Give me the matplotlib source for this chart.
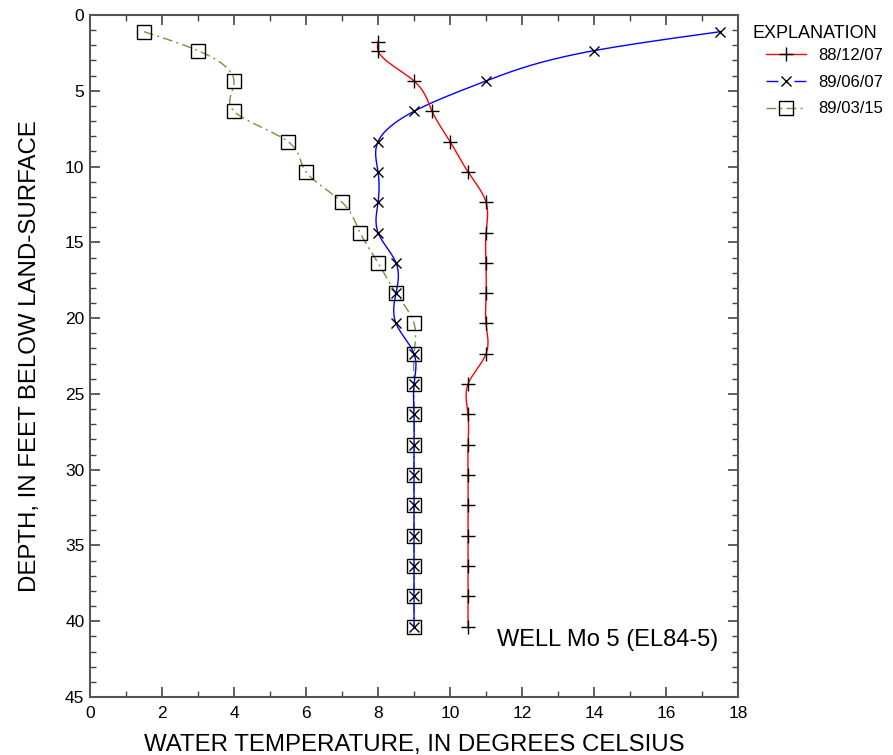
import numpy as np
import matplotlib
matplotlib.use("Agg")
import matplotlib.pyplot as plt
from matplotlib.lines import Line2D
from matplotlib.ticker import MultipleLocator

plt.rcParams['font.family'] = ['Liberation Sans', 'DejaVu Sans']

# 88/12/07
depth_dec = [1.75, 2.35, 4.35, 6.35, 8.35, 10.35, 12.35, 14.35, 16.35, 18.35, 20.35,
             22.35, 24.35, 26.35, 28.35, 30.35, 32.35, 34.35, 36.35, 38.35, 40.35]
temp_dec = [8.0, 8.0, 9.0, 9.5, 10.0, 10.5, 11.0, 11.0, 11.0, 11.0, 11.0,
            11.0, 10.5, 10.5, 10.5, 10.5, 10.5, 10.5, 10.5, 10.5, 10.5]

# 89/06/07
depth_jun = [1.1, 2.35, 4.35, 6.35, 8.35, 10.35, 12.35, 14.35, 16.35, 18.35, 20.35,
             22.35, 24.35, 26.35, 28.35, 30.35, 32.35, 34.35, 36.35, 38.35, 40.35]
temp_jun = [17.5, 14.0, 11.0, 9.0, 8.0, 8.0, 8.0, 8.0, 8.5, 8.5, 8.5,
            9.0, 9.0, 9.0, 9.0, 9.0, 9.0, 9.0, 9.0, 9.0, 9.0]

# 89/03/15
depth_mar = [1.1, 2.35, 4.35, 6.35, 8.35, 10.35, 12.35, 14.35, 16.35, 18.35, 20.35,
             22.35, 24.35, 26.35, 28.35, 30.35, 32.35, 34.35, 36.35, 38.35, 40.35]
temp_mar = [1.5, 3.0, 4.0, 4.0, 5.5, 6.0, 7.0, 7.5, 8.0, 8.5, 9.0,
            9.0, 9.0, 9.0, 9.0, 9.0, 9.0, 9.0, 9.0, 9.0, 9.0]

labels = ['88/12/07', '89/06/07', '89/03/15']


def spline_curve(d, t, n=40):
    # natural cubic spline of temperature as a function of depth
    d = np.asarray(d, float)
    t = np.asarray(t, float)
    k = len(d)
    h = np.diff(d)
    A = np.zeros((k, k))
    b = np.zeros(k)
    A[0, 0] = A[-1, -1] = 1.0
    for i in range(1, k - 1):
        A[i, i - 1] = h[i - 1]
        A[i, i] = 2 * (h[i - 1] + h[i])
        A[i, i + 1] = h[i]
        b[i] = 6 * ((t[i + 1] - t[i]) / h[i] - (t[i] - t[i - 1]) / h[i - 1])
    M = np.linalg.solve(A, b)
    dd, tt = [], []
    for i in range(k - 1):
        s = np.linspace(d[i], d[i + 1], n)
        a = (d[i + 1] - s) / h[i]
        c = (s - d[i]) / h[i]
        y = (a * t[i] + c * t[i + 1]
             + ((a ** 3 - a) * M[i] + (c ** 3 - c) * M[i + 1]) * h[i] ** 2 / 6)
        dd.extend(s)
        tt.extend(y)
    return np.array(tt), np.array(dd)


fig = plt.figure(figsize=(8.93, 7.55), dpi=100)
ax = fig.add_axes([0.1008, 0.0768, 0.7257, 0.9033])

green = '#6b9a3a'
dashdot = (0, (7, 3, 1.5, 3))
gx, gy = spline_curve(depth_mar, temp_mar)
ax.plot(gx, gy, color=green, lw=1.0, ls=dashdot)
bx, by = spline_curve(depth_jun, temp_jun)
ax.plot(bx, by, color='#0000ff', lw=1.0)
rx, ry = spline_curve(depth_dec, temp_dec)
ax.plot(rx, ry, color='#ff0000', lw=1.0)

ax.plot(temp_mar, depth_mar, ls='none', marker='s', ms=10, mfc='none', mec='black', mew=1.0)
ax.plot(temp_jun, depth_jun, ls='none', marker='x', ms=7.5, mec='black', mew=1.0)
ax.plot(temp_dec, depth_dec, ls='none', marker='+', ms=10, mec='black', mew=1.0)

ax.set_xlim(0, 18)
ax.set_ylim(45, 0)
ax.xaxis.set_major_locator(MultipleLocator(2))
ax.xaxis.set_minor_locator(MultipleLocator(1))
ax.yaxis.set_major_locator(MultipleLocator(5))
ax.yaxis.set_minor_locator(MultipleLocator(1))
ax.tick_params(which='both', direction='in', top=True, right=True,
               labelsize=12.5, color='#444444')
ax.tick_params(which='major', length=7, width=1.2, pad=4)
ax.tick_params(which='minor', length=4, width=1.0)
ax.tick_params(axis='x', which='major', pad=6.5)
for sp in ax.spines.values():
    sp.set_color('#555555')
    sp.set_linewidth(1.5)

ax.set_xlabel('WATER TEMPERATURE, IN DEGREES CELSIUS', fontsize=17.3, labelpad=9)
ax.set_ylabel('DEPTH, IN FEET BELOW LAND-SURFACE', fontsize=17.3, labelpad=17)

ax.text(0.97, 0.0836, 'WELL Mo 5 (EL84-5)', transform=ax.transAxes,
        ha='right', va='center', fontsize=17)

fig.text(753 / 893, 1 - 33 / 755, 'EXPLANATION', ha='left', va='center', fontsize=13)
handles = [
    Line2D([], [], color='#ff0000', lw=1.0, marker='+', ms=10, mec='black'),
    Line2D([], [], color='#0000ff', lw=1.0, ls=(0, (8.6, 11.5)), marker='x', ms=7.5,
           mec='black'),
    Line2D([], [], color=green, lw=1.0, ls=dashdot, marker='s', ms=10,
           mfc='none', mec='black'),
]
ax.legend(handles, labels, loc='upper left', bbox_to_anchor=(766 / 893, 1 - 48 / 755),
          bbox_transform=fig.transFigure, frameon=False, fontsize=12,
          handlelength=2.4, handletextpad=0.72, labelspacing=0.7,
          borderpad=0, borderaxespad=0)

fig.savefig('out.png', dpi=100)
